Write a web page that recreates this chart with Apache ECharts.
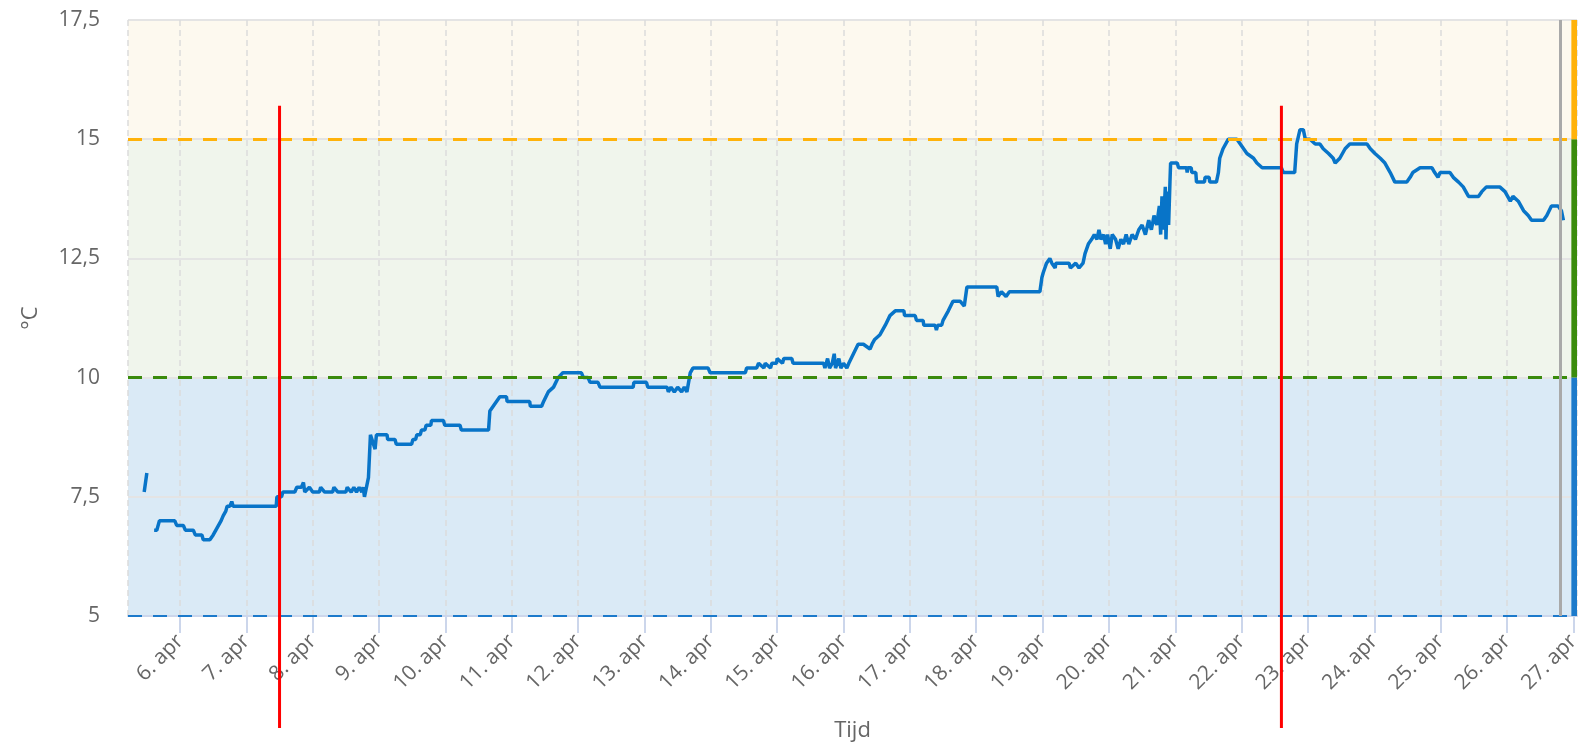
<!DOCTYPE html>
<html>
<head>
    <meta charset="utf-8">
    <title>Temperatuur</title>
    <script src="https://cdn.jsdelivr.net/npm/echarts@6/dist/echarts.min.js"></script>
    <style>
        html, body { margin: 0; padding: 0; background: #fff; }
        #main { width: 1583px; height: 744px; }
    </style>
</head>
<body>
<div id="main"></div>

<script type="text/javascript">
    // meetmomenten: dag in april (decimaal), met bijbehorende temperatuur in °C
    var dagen = [
        5.46, 5.50, 5.55, 5.61, 5.65, 5.69, 5.92, 5.95, 6.05, 6.08, 6.20, 6.23, 6.33, 6.35, 6.45, 6.50,
        6.54, 6.58, 6.62, 6.65, 6.69, 6.71, 6.75, 6.78, 6.80, 7.45, 7.46, 7.53, 7.55, 7.73, 7.76, 7.83,
        7.86, 7.88, 7.95, 8.00, 8.10, 8.12, 8.18, 8.30, 8.32, 8.38, 8.50, 8.52, 8.58, 8.62, 8.66, 8.70,
        8.74, 8.76, 8.78, 8.81, 8.84, 8.87, 8.90, 8.94, 8.96, 9.12, 9.13, 9.24, 9.26, 9.49, 9.51, 9.55,
        9.57, 9.62, 9.64, 9.69, 9.71, 9.78, 9.79, 9.97, 9.99, 10.22, 10.24, 10.65, 10.67, 10.72, 10.77, 10.82,
        10.92, 10.93, 11.27, 11.28, 11.45, 11.48, 11.55, 11.63, 11.70, 11.77, 12.05, 12.08, 12.15, 12.18, 12.30, 12.33,
        12.83, 12.84, 13.03, 13.05, 13.34, 13.36, 13.40, 13.45, 13.50, 13.56, 13.60, 13.64, 13.66, 13.69, 13.73, 13.96,
        13.99, 14.52, 14.54, 14.69, 14.72, 14.80, 14.82, 14.90, 14.92, 14.99, 15.00, 15.08, 15.10, 15.22, 15.24, 15.70,
        15.72, 15.76, 15.79, 15.83, 15.86, 15.88, 15.93, 15.96, 16.00, 16.05, 16.08, 16.15, 16.22, 16.30, 16.40, 16.43,
        16.47, 16.55, 16.63, 16.70, 16.78, 16.91, 16.92, 17.08, 17.10, 17.20, 17.21, 17.38, 17.40, 17.42, 17.48, 17.50,
        17.58, 17.65, 17.76, 17.82, 17.86, 18.31, 18.33, 18.38, 18.45, 18.50, 18.96, 18.99, 19.01, 19.06, 19.11, 19.14,
        19.19, 19.20, 19.40, 19.42, 19.50, 19.55, 19.61, 19.64, 19.69, 19.74, 19.78, 19.82, 19.85, 19.88, 19.92, 19.95,
        19.98, 20.02, 20.05, 20.10, 20.14, 20.18, 20.22, 20.26, 20.30, 20.35, 20.40, 20.45, 20.50, 20.55, 20.60, 20.64,
        20.68, 20.72, 20.76, 20.78, 20.80, 20.82, 20.85, 20.86, 20.88, 20.90, 20.92, 20.93, 21.03, 21.05, 21.17, 21.18,
        21.19, 21.24, 21.25, 21.31, 21.32, 21.44, 21.45, 21.51, 21.52, 21.62, 21.65, 21.67, 21.72, 21.80, 21.93, 21.98,
        22.03, 22.08, 22.18, 22.23, 22.31, 22.60, 22.63, 22.80, 22.83, 22.88, 22.93, 22.96, 23.03, 23.11, 23.18, 23.23,
        23.31, 23.38, 23.41, 23.48, 23.56, 23.63, 23.89, 23.94, 24.01, 24.09, 24.16, 24.24, 24.31, 24.49, 24.54, 24.58,
        24.69, 24.87, 24.91, 24.96, 24.99, 25.14, 25.19, 25.27, 25.34, 25.42, 25.57, 25.62, 25.69, 25.89, 25.97, 26.05,
        26.09, 26.17, 26.25, 26.32, 26.37, 26.55, 26.60, 26.67, 26.77, 26.82, 26.85
    ];
    var temperatuur = [
        7.6, 8.0, null, 6.8, 6.8, 7.0, 7.0, 6.9, 6.9, 6.8, 6.8, 6.7, 6.7, 6.6, 6.6, 6.7,
        6.8, 6.9, 7.0, 7.1, 7.2, 7.3, 7.3, 7.4, 7.3, 7.3, 7.5, 7.5, 7.6, 7.6, 7.7, 7.7,
        7.8, 7.6, 7.7, 7.6, 7.6, 7.7, 7.6, 7.6, 7.7, 7.6, 7.6, 7.7, 7.6, 7.7, 7.6, 7.7,
        7.6, 7.7, 7.5, 7.5, 7.9, 8.8, 8.8, 8.5, 8.8, 8.8, 8.7, 8.7, 8.6, 8.6, 8.7, 8.7,
        8.8, 8.8, 8.9, 8.9, 9.0, 9.0, 9.1, 9.1, 9.0, 9.0, 8.9, 8.9, 9.3, 9.4, 9.5, 9.6,
        9.6, 9.5, 9.5, 9.4, 9.4, 9.5, 9.7, 9.8, 10.0, 10.1, 10.1, 10.0, 10.0, 9.9, 9.9, 9.8,
        9.8, 9.9, 9.9, 9.8, 9.8, 9.7, 9.8, 9.7, 9.8, 9.7, 9.8, 9.7, 9.7, 10.1, 10.2, 10.2,
        10.1, 10.1, 10.2, 10.2, 10.3, 10.2, 10.3, 10.2, 10.3, 10.3, 10.4, 10.3, 10.4, 10.4, 10.3, 10.3,
        10.2, 10.4, 10.2, 10.3, 10.5, 10.2, 10.4, 10.2, 10.3, 10.2, 10.3, 10.5, 10.7, 10.7, 10.6, 10.7,
        10.8, 10.9, 11.1, 11.3, 11.4, 11.4, 11.3, 11.3, 11.2, 11.2, 11.1, 11.1, 11.0, 11.1, 11.1, 11.2,
        11.4, 11.6, 11.6, 11.5, 11.9, 11.9, 11.7, 11.8, 11.7, 11.8, 11.8, 12.1, 12.2, 12.4, 12.5, 12.4,
        12.3, 12.4, 12.4, 12.3, 12.4, 12.3, 12.4, 12.6, 12.8, 12.9, 13.0, 12.9, 13.1, 12.9, 13.0, 12.8,
        13.0, 12.7, 13.0, 12.9, 12.7, 12.9, 12.8, 13.0, 12.8, 13.0, 12.9, 13.1, 13.2, 13.0, 13.3, 13.1,
        13.4, 13.2, 13.6, 13.0, 13.8, 13.1, 14.0, 12.9, 13.9, 13.2, 14.1, 14.5, 14.5, 14.4, 14.4, 14.3,
        14.4, 14.4, 14.3, 14.3, 14.1, 14.1, 14.2, 14.2, 14.1, 14.1, 14.3, 14.6, 14.8, 15.0, 15.0, 14.9,
        14.8, 14.7, 14.6, 14.5, 14.4, 14.4, 14.3, 14.3, 14.9, 15.2, 15.2, 15.0, 15.0, 14.9, 14.9, 14.8,
        14.7, 14.6, 14.5, 14.6, 14.8, 14.9, 14.9, 14.8, 14.7, 14.6, 14.5, 14.3, 14.1, 14.1, 14.2, 14.3,
        14.4, 14.4, 14.3, 14.2, 14.3, 14.3, 14.2, 14.1, 14.0, 13.8, 13.8, 13.9, 14.0, 14.0, 13.9, 13.7,
        13.8, 13.7, 13.5, 13.4, 13.3, 13.3, 13.4, 13.6, 13.6, 13.5, 13.3
    ];

    // grenswaarden van de zones (blauw = koud, groen = goed, oranje = warm)
    var grenzen = [5, 10, 15, 17.5];
    var zoneKleuren = ['#daeaf6', '#f0f5ec', '#fdf9ef'];
    var grensKleuren = ['#1c7acb', '#3a8b0c', '#ffb20a'];

    // y-as
    var yMin = 5, yMax = 17.5, yStap = 2.5;
    // x-as bereik in dagen van april
    var xMin = 5.216, xMax = 27.055;
    var zoneBalkVan = 26.97;

    // rode markeringen en "nu"-lijn
    var markeringen = [7.50, 22.60];
    var markeringBoven = 15.7, markeringOnder = 2.65;
    var nuDag = 26.81;

    var DAG = 86400000;
    function dagNaarTijd(d) {
        return new Date(2023, 3, 1).getTime() + (d - 1) * DAG;
    }

    var lijnData = dagen.map(function (d, i) {
        return [dagNaarTijd(d), temperatuur[i]];
    });

    var achtergrond = [];
    var grensLijnen = [];
    var zoneBalk = [];
    for (var i = 0; i < zoneKleuren.length; i++) {
        achtergrond.push([
            { yAxis: grenzen[i], itemStyle: { color: zoneKleuren[i] } },
            { yAxis: grenzen[i + 1] }
        ]);
        grensLijnen.push({
            yAxis: grenzen[i],
            lineStyle: { color: grensKleuren[i], width: i === 0 ? 2 : 3, type: [14, 11] }
        });
        zoneBalk.push([
            { xAxis: dagNaarTijd(zoneBalkVan), yAxis: grenzen[i], itemStyle: { color: grensKleuren[i] } },
            { xAxis: dagNaarTijd(xMax), yAxis: grenzen[i + 1] }
        ]);
    }
    grensLijnen.push({
        xAxis: dagNaarTijd(nuDag),
        lineStyle: { color: '#a9a9a9', width: 3, type: 'solid' }
    });

    var myChart = echarts.init(document.getElementById('main'));
    var option = {
        animation: false,
        backgroundColor: '#ffffff',
        textStyle: { fontFamily: 'Open Sans' },
        grid: { left: 128, right: 6, top: 20, bottom: 128, outerBoundsMode: 'none' },
        xAxis: {
            type: 'time',
            min: dagNaarTijd(xMin),
            max: dagNaarTijd(xMax),
            minInterval: DAG,
            maxInterval: DAG,
            name: 'Tijd',
            nameLocation: 'middle',
            nameGap: 104,
            nameTextStyle: { color: '#666666', fontSize: 22 },
            axisLine: { lineStyle: { color: '#ccd6eb', width: 2 } },
            axisTick: { length: 17, lineStyle: { color: '#ccd6eb', width: 2 } },
            axisLabel: {
                rotate: 45,
                color: '#666666',
                fontSize: 21,
                margin: 22,
                showMinLabel: false,
                showMaxLabel: false,
                formatter: function (v) {
                    return new Date(v).getDate() + '. apr';
                }
            },
            splitLine: { show: true, lineStyle: { color: '#dcdcdc', width: 1.5, type: [6, 4] } }
        },
        yAxis: {
            type: 'value',
            min: yMin,
            max: yMax,
            interval: yStap,
            name: '°C',
            nameLocation: 'middle',
            nameGap: 86,
            nameTextStyle: { color: '#666666', fontSize: 22 },
            axisLine: { show: false },
            axisTick: { show: false },
            axisLabel: {
                color: '#666666',
                fontSize: 21,
                margin: 28,
                formatter: function (v) {
                    return String(v).replace('.', ',');
                }
            },
            splitLine: { lineStyle: { color: '#e4e4e4', width: 2 } }
        },
        series: [
            {
                type: 'line',
                data: [],
                z: -1,
                silent: true,
                markArea: { silent: true, z: -1, data: achtergrond }
            },
            {
                name: 'Temperatuur',
                type: 'line',
                data: lijnData,
                showSymbol: false,
                connectNulls: false,
                lineStyle: { color: '#0874c8', width: 3.5 },
                itemStyle: { color: '#0874c8' },
                markLine: {
                    silent: true,
                    symbol: ['none', 'none'],
                    label: { show: false },
                    data: grensLijnen
                },
                markArea: { silent: true, data: zoneBalk }
            }
        ]
    };
    myChart.setOption(option);

    // rode verticale lijnen, positie uit de assen
    var rodeLijnen = markeringen.map(function (d) {
        var boven = myChart.convertToPixel({ gridIndex: 0 }, [dagNaarTijd(d), markeringBoven]);
        var onder = myChart.convertToPixel({ gridIndex: 0 }, [dagNaarTijd(d), markeringOnder]);
        return {
            type: 'line',
            z: 100,
            shape: { x1: boven[0], y1: boven[1], x2: onder[0], y2: onder[1] },
            style: { stroke: '#ff0000', lineWidth: 3 }
        };
    });
    myChart.setOption({ graphic: rodeLijnen });
</script>
</body>
</html>
